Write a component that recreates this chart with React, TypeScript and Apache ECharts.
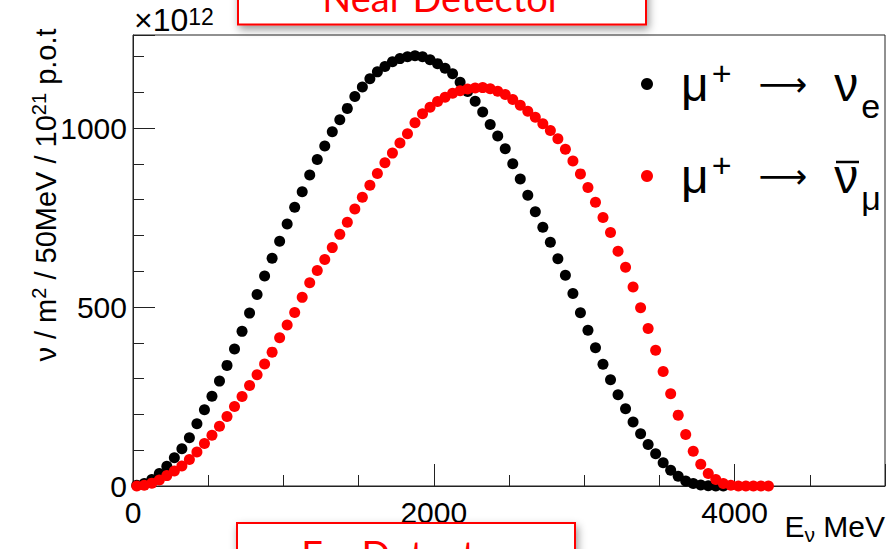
import React, { useEffect, useRef } from "react";
import * as echarts from "echarts";

// Neutrino flux per 50 MeV energy bin, in units of 1e12 nu / m^2 / 1e21 p.o.t
const BIN_WIDTH = 50; // MeV
const FIRST_BIN_CENTER = 25; // MeV

// mu+ -> nu_e
const nuEFlux = [
  2, 7, 18, 35, 55, 79, 104, 135, 174, 213, 251, 293, 337, 383, 432, 483, 535, 587, 636, 684,
  732, 779, 822, 869, 912, 950, 990, 1023, 1055, 1088, 1115, 1138, 1157, 1172, 1185, 1194, 1199, 1202, 1199, 1191,
  1180, 1167, 1152, 1128, 1102, 1075, 1045, 1010, 978, 942, 900, 858, 812, 766, 723, 681, 635, 589, 538, 484,
  435, 386, 340, 297, 255, 216, 179, 146, 116, 90, 65, 44, 27, 14, 7, 3, 1, 0, 0,
];

// mu+ -> anti nu_mu
const nuMuBarFlux = [
  0, 2, 8, 17, 29, 42, 56, 74, 95, 119, 142, 167, 194, 222, 250, 281, 311, 341, 374, 414,
  450, 485, 527, 568, 602, 633, 666, 703, 737, 774, 807, 840, 873, 903, 930, 958, 984, 1015, 1040, 1058,
  1074, 1086, 1097, 1104, 1109, 1112, 1113, 1110, 1103, 1094, 1080, 1064, 1047, 1030, 1012, 993, 970, 941, 908, 872,
  834, 793, 750, 708, 656, 611, 556, 498, 440, 379, 320, 258, 198, 144, 97, 61, 35, 18, 7, 2,
  0, 0, 0, 0, 0,
];

const xTicks = { min: 0, max: 5000, interval: 2000 };
const yTicks = { min: 0, max: 1260, interval: 500 };

const NAME_E = "μ+ → νe";
const NAME_MUBAR = "μ+ → ν̄μ";

const FONT = "'Liberation Sans', Arial, Helvetica, sans-serif";
const ARROW_FONT = "'DejaVu Sans', 'Liberation Sans', sans-serif";
const BOX_FONT = "Lato, 'Open Sans', sans-serif";
const AXIS_COLOR = "#222";

const toPoints = (values: number[]) =>
  values.map((v, i) => [FIRST_BIN_CENTER + i * BIN_WIDTH, v]);

const legendRich = {
  sp: { width: 23, lineHeight: 56 },
  pad: { width: 3, lineHeight: 56 },
  gap: { width: 27, lineHeight: 56 },
  mu: { fontSize: 48, lineHeight: 56, fontFamily: FONT, color: "#000" },
  sup: { fontSize: 34, lineHeight: 50, verticalAlign: "top", fontFamily: FONT, color: "#000" },
  ar: { fontSize: 34, lineHeight: 56, fontFamily: ARROW_FONT, color: "#000" },
  nu: { fontSize: 48, lineHeight: 56, fontFamily: FONT, color: "#000" },
  // subscript pushed below the baseline by top padding
  sub: {
    fontSize: 34,
    lineHeight: 16,
    padding: [33, 0, 0, 0],
    verticalAlign: "top",
    fontFamily: FONT,
    color: "#000",
  },
};

const legendFormatter = (name: string) =>
  name === NAME_E
    ? "{sp|}{mu|μ}{pad|}{sup|+}{gap|}{ar|⟶}{gap|}{nu|ν}{pad|}{sub|e}"
    : "{sp|}{mu|μ}{pad|}{sup|+}{gap|}{ar|⟶}{gap|}{nu|ν}{pad|}{sub|μ}";

const makeLegend = (name: string, top: number) => ({
  data: [name],
  orient: "vertical",
  left: 641,
  top,
  padding: 0,
  icon: "circle",
  itemWidth: 12,
  itemHeight: 12,
  selectedMode: false,
  formatter: legendFormatter,
  textStyle: { rich: legendRich, fontFamily: FONT, color: "#000" },
});

const plainNumber = (v: number) => String(v);

export default function App() {
  const ref = useRef<HTMLDivElement>(null);

  useEffect(() => {
    if (!ref.current) return;
    const chart = echarts.init(ref.current, undefined, { renderer: "svg" });

    const axisCommon = {
      type: "value",
      axisLine: { show: true, onZero: false, lineStyle: { color: AXIS_COLOR, width: 1 } },
      axisTick: { show: true, inside: true, length: 22, lineStyle: { color: AXIS_COLOR, width: 1 } },
      splitLine: { show: false },
    };

    chart.setOption({
      animation: false,
      backgroundColor: "#fff",
      grid: {
        left: 133,
        right: 6,
        top: 35,
        bottom: 63,
        show: true,
        borderColor: AXIS_COLOR,
        borderWidth: 1,
        backgroundColor: "transparent",
      },
      xAxis: {
        ...axisCommon,
        min: xTicks.min,
        max: xTicks.max,
        interval: xTicks.interval,
        minorTick: { show: true, splitNumber: 4, length: 11, lineStyle: { color: AXIS_COLOR, width: 1 } },
        axisLabel: {
          margin: 11,
          fontSize: 30,
          fontFamily: FONT,
          color: "#000",
          showMaxLabel: false,
          formatter: plainNumber,
        },
      },
      yAxis: {
        ...axisCommon,
        min: yTicks.min,
        max: yTicks.max,
        interval: yTicks.interval,
        minorTick: { show: true, splitNumber: 5, length: 11, lineStyle: { color: AXIS_COLOR, width: 1 } },
        axisLabel: {
          margin: 6,
          fontSize: 30,
          fontFamily: FONT,
          color: "#000",
          showMaxLabel: false,
          formatter: plainNumber,
        },
      },
      legend: [makeLegend(NAME_E, 56), makeLegend(NAME_MUBAR, 148)],
      series: [
        {
          name: NAME_E,
          type: "scatter",
          data: toPoints(nuEFlux),
          symbol: "circle",
          symbolSize: 11,
          clip: false,
          itemStyle: { color: "#000", opacity: 1 },
        },
        {
          name: NAME_MUBAR,
          type: "scatter",
          data: toPoints(nuMuBarFlux),
          symbol: "circle",
          symbolSize: 11,
          clip: false,
          itemStyle: { color: "#ff0000", opacity: 1 },
        },
      ],
      graphic: [
        // bar over the anti-neutrino symbol in the legend
        {
          type: "line",
          shape: { x1: 836, y1: 162, x2: 859, y2: 162 },
          style: { stroke: "#000", lineWidth: 2.5 },
          z: 20,
        },
        // axis exponent
        {
          type: "text",
          x: 134,
          y: 20,
          style: {
            text: "{a|×10}{s|12}",
            verticalAlign: "middle",
            rich: {
              a: { fontSize: 32, lineHeight: 30, fontFamily: FONT, color: "#000" },
              s: { fontSize: 23, lineHeight: 8, verticalAlign: "top", fontFamily: FONT, color: "#000" },
            },
          },
        },
        // y axis title
        {
          type: "text",
          x: 46,
          y: 195,
          rotation: Math.PI / 2,
          style: {
            text: "{a|ν / m}{s|2}{a| / 50MeV / 10}{s|21}{a| p.o.t}",
            align: "center",
            verticalAlign: "middle",
            rich: {
              a: { fontSize: 29, lineHeight: 34, fontFamily: FONT, color: "#000" },
              s: { fontSize: 20, lineHeight: 14, verticalAlign: "top", fontFamily: FONT, color: "#000" },
            },
          },
        },
        // x axis title
        {
          type: "text",
          x: 885,
          y: 526,
          style: {
            text: "{a|E}{b|ν}{a| MeV}",
            align: "right",
            verticalAlign: "middle",
            rich: {
              a: { fontSize: 30, lineHeight: 34, fontFamily: FONT, color: "#000" },
              b: {
                fontSize: 21,
                lineHeight: 10,
                padding: [15, 0, 0, 0],
                verticalAlign: "top",
                fontFamily: FONT,
                color: "#000",
              },
            },
          },
        },
        // detector labels
        {
          type: "rect",
          shape: { x: 238, y: -30, width: 408, height: 54.5 },
          style: {
            fill: "#fff",
            stroke: "#ff0000",
            lineWidth: 2,
            shadowBlur: 8,
            shadowOffsetX: 2,
            shadowOffsetY: 4,
            shadowColor: "rgba(0,0,0,0.4)",
          },
          z: 10,
        },
        {
          type: "text",
          x: 442,
          y: 16,
          z: 11,
          style: {
            text: "Near Detector",
            align: "center",
            verticalAlign: "bottom",
            fontSize: 38,
            fontFamily: BOX_FONT,
            fill: "#ff0000",
          },
        },
        {
          type: "rect",
          shape: { x: 237, y: 523, width: 338, height: 60 },
          style: {
            fill: "#fff",
            stroke: "#ff0000",
            lineWidth: 2,
            shadowBlur: 8,
            shadowOffsetX: 2,
            shadowOffsetY: 4,
            shadowColor: "rgba(0,0,0,0.4)",
          },
          z: 10,
        },
        {
          type: "text",
          x: 406,
          y: 535,
          z: 11,
          style: {
            text: "Far Detector",
            align: "center",
            verticalAlign: "top",
            fontSize: 38,
            fontFamily: BOX_FONT,
            fill: "#ff0000",
          },
        },
      ],
    });

    return () => chart.dispose();
  }, []);

  return (
    <div
      ref={ref}
      style={{ position: "fixed", left: 0, top: 0, width: 891, height: 549, background: "#fff" }}
    />
  );
}
